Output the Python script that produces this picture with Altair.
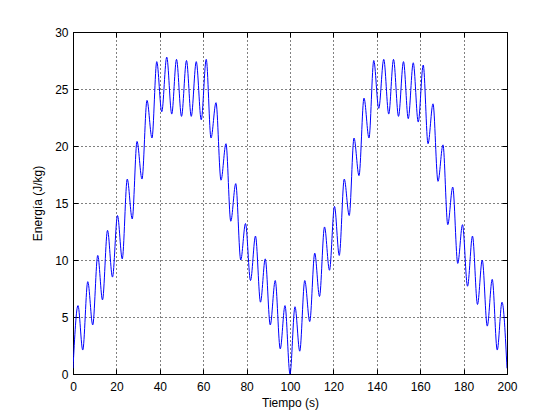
import altair as alt
import pandas as pd

# Extrema of the oscillating energy curve
tiempo = [
    0.0, 2.3, 4.5, 6.8, 9.1, 11.4, 13.6, 15.9, 18.2, 20.5, 22.7, 25.0, 27.3, 29.5,
    31.8, 34.1, 36.4, 38.6, 40.9, 43.2, 45.5, 47.7, 50.0, 52.3, 54.5, 56.8, 59.1,
    61.4, 63.6, 65.9, 68.2, 70.5, 72.7, 75.0, 77.3, 79.5, 81.8, 84.1, 86.4, 88.6,
    90.9, 93.2, 95.5, 97.7, 100.0,
    102.3, 104.5, 106.8, 109.1, 111.4, 113.6, 115.9, 118.2, 120.5, 122.7, 125.0,
    127.3, 129.5, 131.8, 134.1, 136.4, 138.6, 140.9, 143.2, 145.5, 147.7, 150.0,
    152.3, 154.5, 156.8, 159.1, 161.4, 163.6, 165.9, 168.2, 170.5, 172.7, 175.0,
    177.3, 179.5, 181.8, 184.1, 186.4, 188.6, 190.9, 193.2, 195.5, 197.7, 200.0,
]
energia = [
    0.5, 6.0, 2.1, 8.1, 4.3, 10.4, 6.5, 12.6, 8.5, 13.9, 10.1, 17.1, 13.6, 20.4,
    17.1, 24.0, 20.7, 27.4, 23.0, 27.8, 22.8, 27.6, 22.6, 27.5, 22.6, 27.4, 22.3,
    27.6, 20.7, 23.8, 17.0, 20.2, 13.4, 16.7, 10.0, 13.2, 8.2, 12.1, 6.3, 10.1,
    4.3, 8.2, 2.2, 6.0, 0.0,
    5.9, 2.0, 8.2, 4.6, 10.6, 6.8, 12.9, 9.1, 14.7, 10.4, 17.1,
    13.9, 20.7, 17.4, 24.2, 20.7, 27.5, 23.3, 27.6, 22.8, 27.6, 22.6,
    27.4, 22.4, 27.3, 22.1, 27.1, 20.2, 23.7, 16.9, 20.1, 13.1, 16.4,
    9.7, 13.1, 7.7, 12.1, 6.1, 10.0, 4.2, 8.3, 2.1, 6.3, 0.5,
]
x_ticks = [0, 20, 40, 60, 80, 100, 120, 140, 160, 180, 200]
y_ticks = [0, 5, 10, 15, 20, 25, 30]

df = pd.DataFrame({"t": tiempo, "E": energia})

FONT = "Liberation Sans"
xs = alt.Scale(domain=[0, 200], nice=False, zero=False)
ys = alt.Scale(domain=[0, 30], nice=False, zero=False)

base = alt.Chart(df)

main = base.mark_line(color="#0000ff", strokeWidth=1, interpolate="monotone", clip=True).encode(
    x=alt.X("t:Q", scale=xs, axis=alt.Axis(
        values=x_ticks, title="Tiempo (s)", orient="bottom", grid=True,
        gridDash=[1, 3], gridColor="#000000", gridOpacity=1, gridWidth=1,
        tickSize=0, labelPadding=7, domainColor="#000000", labelColor="#000000",
        labelFont=FONT, labelFontSize=12, titleFont=FONT, titleFontSize=12,
        titleFontWeight="normal", titleColor="#000000", titlePadding=5,
        labelFlush=False)),
    y=alt.Y("E:Q", scale=ys, axis=alt.Axis(
        values=y_ticks, title="Energía (J/kg)", orient="left", grid=True,
        gridDash=[1, 3], gridColor="#000000", gridOpacity=1, gridWidth=1,
        tickSize=0, labelPadding=5, domainColor="#000000", labelColor="#000000",
        labelFont=FONT, labelFontSize=12, titleFont=FONT, titleFontSize=12,
        titleFontWeight="normal", titleColor="#000000", titlePadding=10,
        labelFlush=False)),
)

tick_common = dict(labels=False, domain=False, grid=False, title="", tickSize=5,
                   tickColor="#000000", offset=-5)

inner1 = base.mark_line(opacity=0).encode(
    x=alt.X("t:Q", scale=xs, axis=alt.Axis(values=x_ticks, orient="bottom", **tick_common)),
    y=alt.Y("E:Q", scale=ys, axis=alt.Axis(values=y_ticks, orient="left", **tick_common)),
)
inner2 = base.mark_line(opacity=0).encode(
    x=alt.X("t:Q", scale=xs, axis=alt.Axis(values=x_ticks, orient="top", **tick_common)),
    y=alt.Y("E:Q", scale=ys, axis=alt.Axis(values=y_ticks, orient="right", **tick_common)),
)

chart = alt.layer(main, inner1, inner2).resolve_axis(
    x="independent", y="independent"
).properties(
    width=434, height=342,
    autosize=alt.AutoSizeParams(type="none"),
    padding={"left": 65, "top": 24, "right": 40, "bottom": 40},
    background="white",
).configure_view(stroke="#000000", strokeWidth=1)

chart.save("out.html", embed_options={"renderer": "svg", "actions": False})
